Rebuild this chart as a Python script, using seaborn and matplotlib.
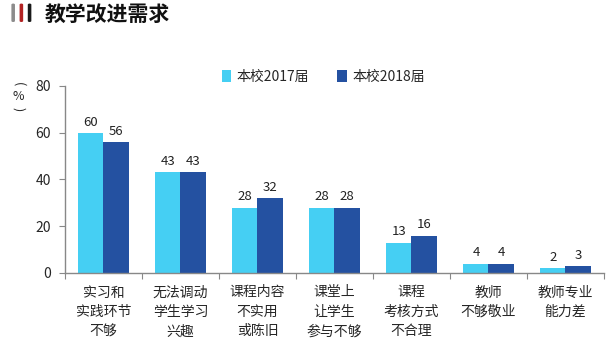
import matplotlib
matplotlib.use("Agg")
import matplotlib.pyplot as plt
import seaborn as sns
import pandas as pd
from matplotlib.patches import FancyBboxPatch

categories = ["实习和\n实践环节\n不够", "无法调动\n学生学习\n兴趣", "课程内容\n不实用\n或陈旧",
              "课堂上\n让学生\n参与不够", "课程\n考核方式\n不合理", "教师\n不够敬业", "教师专业\n能力差"]
series_names = ["本校2017届", "本校2018届"]
values_2017 = [60, 43, 28, 28, 13, 4, 2]
values_2018 = [56, 43, 32, 28, 16, 4, 3]
y_ticks = [0, 20, 40, 60, 80]
title = "教学改进需求"

df = pd.DataFrame({
    "cat": categories * 2,
    "series": [series_names[0]] * len(categories) + [series_names[1]] * len(categories),
    "value": values_2017 + values_2018,
})

sns.set_theme(style="white")
plt.rcParams["font.family"] = ["Noto Sans CJK SC", "DejaVu Sans"]

fig = plt.figure(figsize=(6.16, 3.55), dpi=100)
ax = fig.add_axes([0.1055, 0.231, 0.875, 0.527])

palette = {series_names[0]: "#45CFF3", series_names[1]: "#2451A1"}
sns.barplot(data=df, x="cat", y="value", hue="series", palette=palette, ax=ax,
            width=0.65, saturation=1, edgecolor="none", order=categories, hue_order=series_names)

for c in ax.containers:
    ax.bar_label(c, fmt="%d", padding=3, fontsize=9.5, color="#222222")

ax.set_ylim(0, 80)
ax.set_yticks(y_ticks)
ax.set_xlim(-0.5, len(categories) - 0.5)
ax.set_xlabel("")
ax.set_ylabel("")
ax.tick_params(axis="y", labelsize=10, length=4, width=0.8, color="#888888", direction="out", left=True, pad=6)
ax.tick_params(axis="x", labelsize=10, length=0, pad=9)
for lbl in ax.get_xticklabels():
    lbl.set_linespacing(1.5)
ax.set_xticks([i - 0.5 for i in range(len(categories) + 1)], minor=True)
ax.tick_params(axis="x", which="minor", length=4, width=0.8, color="#888888", direction="out", bottom=True)
for s in ["top", "right"]:
    ax.spines[s].set_visible(False)
for s in ["left", "bottom"]:
    ax.spines[s].set_color("#888888")
    ax.spines[s].set_linewidth(1.0)

handles, labels = ax.get_legend_handles_labels()
ax.legend(handles, labels, ncol=2, loc="center", bbox_to_anchor=(0.525, 0.783),
          bbox_transform=fig.transFigure, frameon=False, fontsize=10,
          handlelength=0.7, handleheight=0.9, handletextpad=0.4, columnspacing=2.0)

# vertical unit label
fig.text(0.030, 0.763, "(", ha="center", va="center", fontsize=9, rotation=-90)
fig.text(0.030, 0.728, "%", ha="center", va="center", fontsize=9)
fig.text(0.030, 0.693, ")", ha="center", va="center", fontsize=9, rotation=-90)

# title and icon
for i, col in enumerate(["#8C8C8C", "#B22222", "#1A1A1A"]):
    fig.patches.append(FancyBboxPatch((0.0185 + i * 0.0133, 0.938), 0.0058, 0.052,
                                      boxstyle="round,pad=0,rounding_size=0.003",
                                      transform=fig.transFigure, facecolor=col, edgecolor="none"))
fig.text(0.072, 0.960, title, ha="left", va="center", fontsize=15, fontweight="bold", color="#111111")

fig.savefig("out.png", dpi=100)
